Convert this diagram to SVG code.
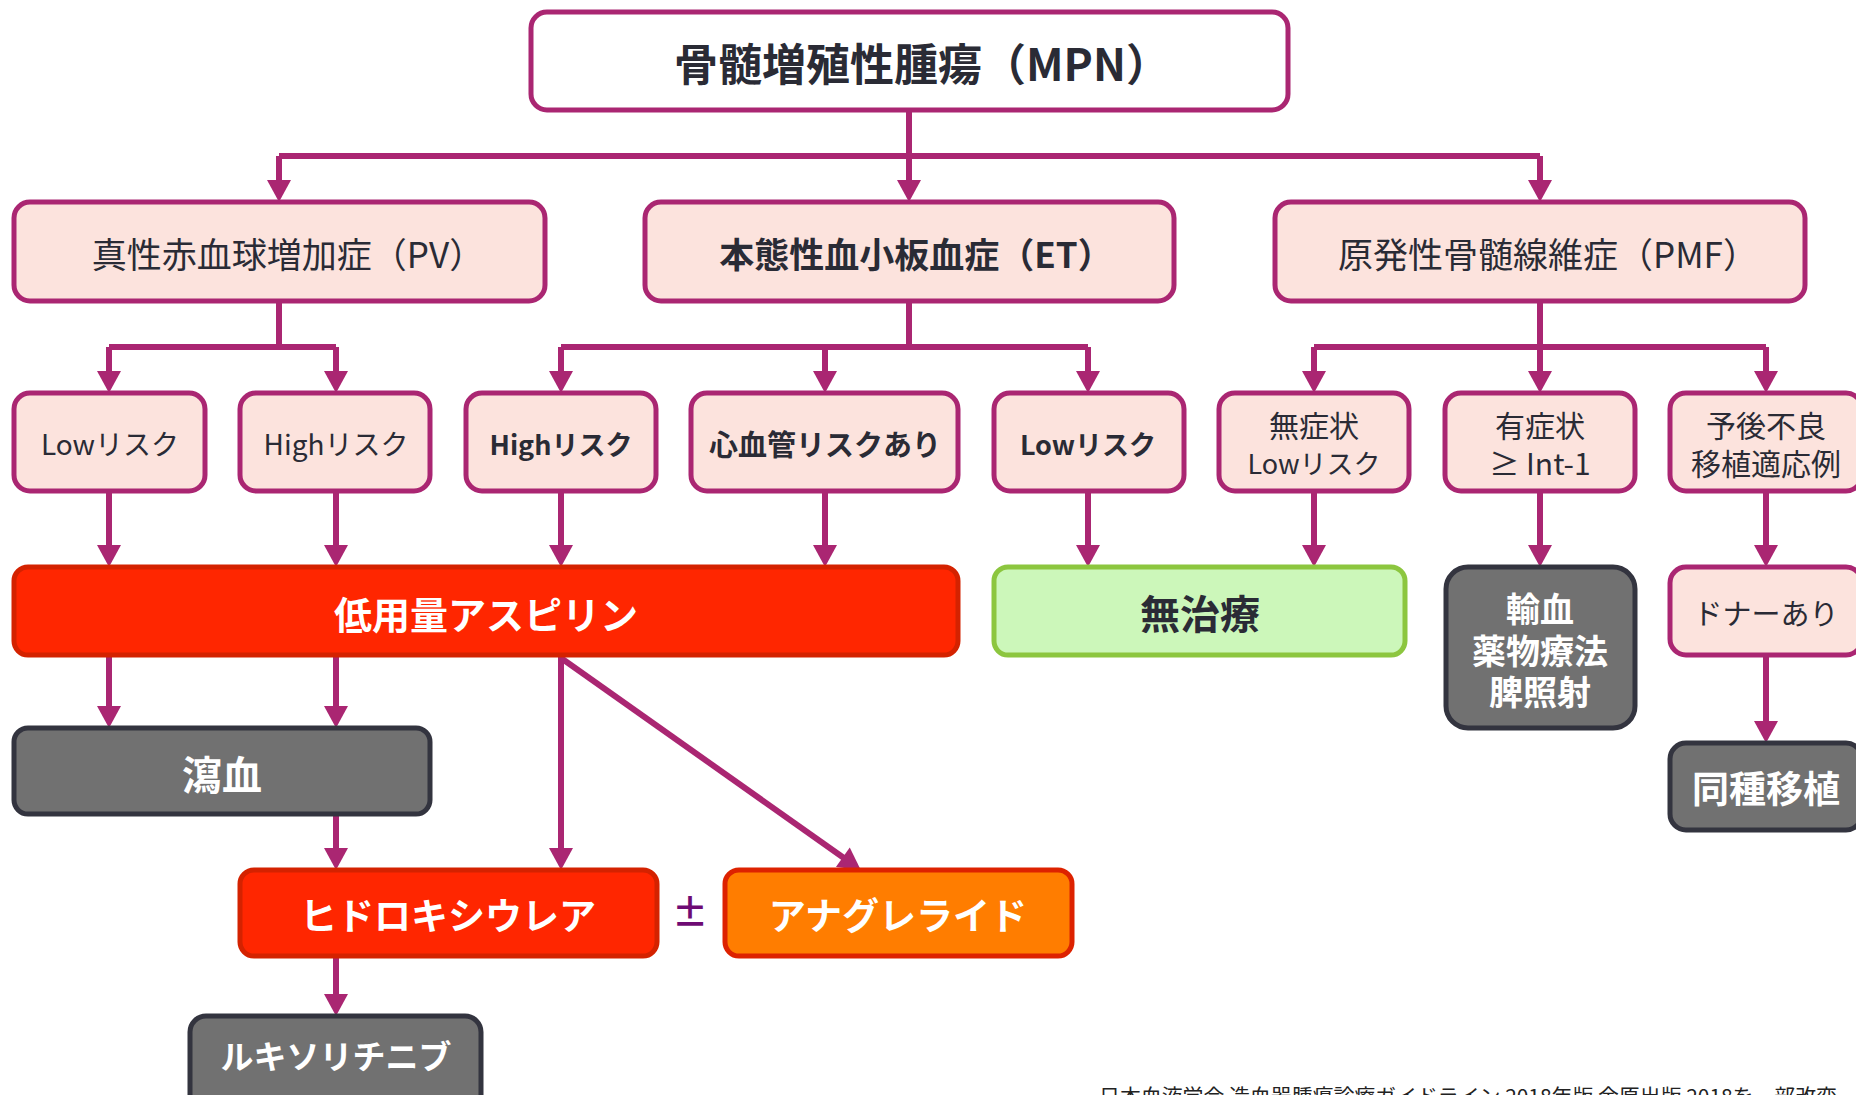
<svg xmlns="http://www.w3.org/2000/svg" width="1856" height="1095" viewBox="0 0 1856 1095">
<defs>
<marker id="arr" markerUnits="userSpaceOnUse" markerWidth="24" markerHeight="24" viewBox="0 0 22 24" refX="10" refY="12" orient="auto">
<path d="M0,0 L22,12 L0,24 z" fill="#AA2672"/>
</marker>
</defs>
<style>
text{font-family:"Noto Sans CJK JP","Noto Sans",sans-serif;text-anchor:middle;dominant-baseline:central}
.pink{fill:#FCE3DD;stroke:#AA2672;stroke-width:5}
.white{fill:#FFFFFF;stroke:#AA2672;stroke-width:5}
.red{fill:#FF2600;stroke:#D42200;stroke-width:5}
.orange{fill:#FF7D00;stroke:#DD2200;stroke-width:5}
.green{fill:#CCF7BA;stroke:#8CC63F;stroke-width:5}
.gray{fill:#717171;stroke:#33343F;stroke-width:5}
.dk{fill:#2A2B35}
.wt{fill:#FFFFFF}
.b{font-weight:700}
.conn{fill:none;stroke:#AA2672;stroke-width:6}
.ar{marker-end:url(#arr)}
</style>
<g id="connectors">
<path class="conn" d="M909,110 V156 M279,156 H1540 M279,301 V347 M109,347 H336 M909,301 V347 M561,347 H1088 M1540,301 V347 M1314,347 H1766"/>
<path class="conn ar" d="M279,156 V190"/>
<path class="conn ar" d="M909,156 V190"/>
<path class="conn ar" d="M1540,156 V190"/>
<path class="conn ar" d="M109,347 V381"/>
<path class="conn ar" d="M336,347 V381"/>
<path class="conn ar" d="M561,347 V381"/>
<path class="conn ar" d="M825,347 V381"/>
<path class="conn ar" d="M1088,347 V381"/>
<path class="conn ar" d="M1314,347 V381"/>
<path class="conn ar" d="M1540,347 V381"/>
<path class="conn ar" d="M1766,347 V381"/>
<path class="conn ar" d="M109,491 V555"/>
<path class="conn ar" d="M336,491 V555"/>
<path class="conn ar" d="M561,491 V555"/>
<path class="conn ar" d="M825,491 V555"/>
<path class="conn ar" d="M1088,491 V555"/>
<path class="conn ar" d="M1314,491 V555"/>
<path class="conn ar" d="M1540,491 V555"/>
<path class="conn ar" d="M1766,491 V555"/>
<path class="conn ar" d="M1766,655 V731"/>
<path class="conn ar" d="M109,655 V716"/>
<path class="conn ar" d="M336,655 V716"/>
<path class="conn ar" d="M561,655 V858"/>
<path class="conn ar" d="M561,658 L851,863"/>
<path class="conn ar" d="M336,814 V858"/>
<path class="conn ar" d="M336,956 V1004"/>
</g>
<g id="n-mpn"><rect class="white" x="531" y="12" width="757" height="98" rx="16"/><text class="dk b" x="922" y="62" font-size="44">骨髄増殖性腫瘍（MPN）</text></g>
<g id="n-pv"><rect class="pink" x="14" y="202" width="531" height="99" rx="16"/><text class="dk" x="288" y="252" font-size="35">真性赤血球増加症（PV）</text></g>
<g id="n-et"><rect class="pink" x="645" y="202" width="529" height="99" rx="16"/><text class="dk b" x="916" y="252" font-size="35">本態性血小板血症（ET）</text></g>
<g id="n-pmf"><rect class="pink" x="1275" y="202" width="530" height="99" rx="16"/><text class="dk" x="1548" y="252" font-size="35">原発性骨髄線維症（PMF）</text></g>
<g id="n-pv-low"><rect class="pink" x="14" y="393" width="191" height="98" rx="16"/><text class="dk" x="110" y="443" font-size="28">Lowリスク</text></g>
<g id="n-pv-high"><rect class="pink" x="240" y="393" width="190" height="98" rx="16"/><text class="dk" x="336" y="443" font-size="28">Highリスク</text></g>
<g id="n-et-high"><rect class="pink" x="466" y="393" width="190" height="98" rx="16"/><text class="dk b" x="561" y="443" font-size="27">Highリスク</text></g>
<g id="n-et-cv"><rect class="pink" x="691" y="393" width="267" height="98" rx="16"/><text class="dk b" x="825" y="443" font-size="29">心血管リスクあり</text></g>
<g id="n-et-low"><rect class="pink" x="994" y="393" width="190" height="98" rx="16"/><text class="dk b" x="1088" y="443" font-size="27">Lowリスク</text></g>
<g id="n-pmf-asym"><rect class="pink" x="1219" y="393" width="190" height="98" rx="16"/><text class="dk" font-size="30"><tspan x="1314" y="424">無症状</tspan><tspan x="1314" y="462" font-size="27">Lowリスク</tspan></text></g>
<g id="n-pmf-sym"><rect class="pink" x="1445" y="393" width="190" height="98" rx="16"/><text class="dk" font-size="30"><tspan x="1540" y="424">有症状</tspan><tspan x="1540" y="462">≥ Int-1</tspan></text></g>
<g id="n-pmf-poor"><rect class="pink" x="1670" y="393" width="192" height="98" rx="16"/><text class="dk" font-size="30"><tspan x="1766" y="424">予後不良</tspan><tspan x="1766" y="462">移植適応例</tspan></text></g>
<g id="n-aspirin"><rect class="red" x="14" y="567" width="944" height="88" rx="14"/><text class="wt b" x="486" y="612" font-size="38">低用量アスピリン</text></g>
<g id="n-notx"><rect class="green" x="994" y="567" width="411" height="88" rx="14"/><text class="dk b" x="1200" y="612" font-size="40">無治療</text></g>
<g id="n-tx"><rect class="gray" x="1446" y="567" width="189" height="161" rx="22"/><text class="wt b" font-size="34"><tspan x="1540" y="607">輸血</tspan><tspan x="1540" y="649">薬物療法</tspan><tspan x="1540" y="690">脾照射</tspan></text></g>
<g id="n-donor"><rect class="pink" x="1670" y="567" width="192" height="88" rx="16"/><text class="dk" x="1766" y="612" font-size="29">ドナーあり</text></g>
<g id="n-allo"><rect class="gray" x="1670" y="743" width="192" height="87" rx="16"/><text class="wt b" x="1766" y="787" font-size="37">同種移植</text></g>
<g id="n-phleb"><rect class="gray" x="14" y="728" width="416" height="86" rx="14"/><text class="wt b" x="222" y="773" font-size="40">瀉血</text></g>
<g id="n-hu"><rect class="red" x="240" y="870" width="417" height="86" rx="14"/><text class="wt b" x="448" y="914" font-size="37">ヒドロキシウレア</text></g>
<text x="690" y="910" font-size="36" fill="#6E0A73" font-weight="700">±</text>
<g id="n-ana"><rect class="orange" x="725" y="870" width="347" height="86" rx="14"/><text class="wt b" x="898" y="914" font-size="37">アナグレライド</text></g>
<g id="n-rux"><rect class="gray" x="190" y="1016" width="291" height="100" rx="16"/><text class="wt b" x="336" y="1055" font-size="33">ルキソリチニブ</text></g>
<text x="1468" y="1104" font-size="20" fill="#222222" textLength="738" lengthAdjust="spacingAndGlyphs" style="dominant-baseline:alphabetic">日本血液学会 造血器腫瘍診療ガイドライン 2018年版 金原出版 2018を一部改変</text>
</svg>
